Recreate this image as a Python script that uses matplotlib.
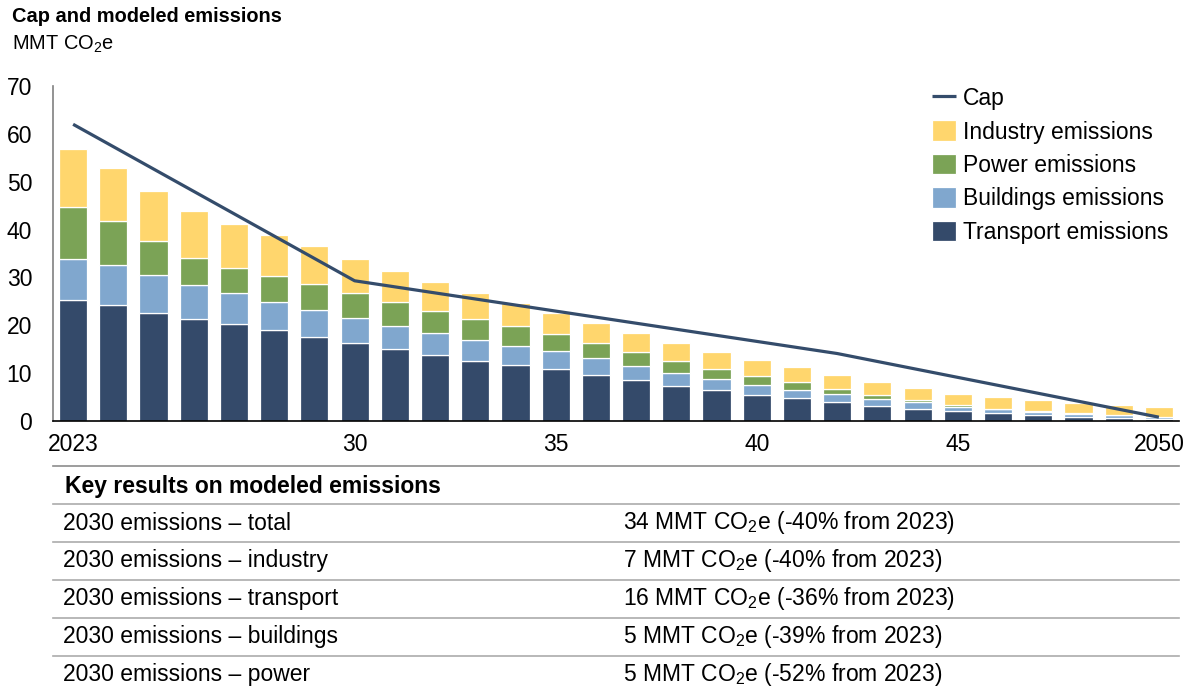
import matplotlib
matplotlib.use("Agg")
import matplotlib.pyplot as plt
from matplotlib.lines import Line2D

plt.rcParams['font.family'] = ['Liberation Sans', 'DejaVu Sans']
plt.rcParams['mathtext.default'] = 'regular'

# data (MMT CO2e)
years = list(range(2023, 2051))
transport = [25.2, 24.2, 22.6, 21.4, 20.2, 19.0, 17.6, 16.25, 15.0, 13.8, 12.6, 11.7, 10.8, 9.7,
             8.5, 7.4, 6.5, 5.5, 4.8, 3.9, 3.1, 2.6, 2.1, 1.6, 1.2, 0.9, 0.6, 0.5]
buildings = [8.55, 8.4, 8.0, 7.1, 6.6, 5.9, 5.5, 5.25, 4.8, 4.5, 4.3, 4.0, 3.8, 3.4,
             3.0, 2.6, 2.25, 2.0, 1.7, 1.65, 1.6, 1.3, 0.9, 0.85, 0.75, 0.6, 0.55, 0.35]
power = [10.95, 9.1, 7.0, 5.5, 5.2, 5.4, 5.6, 5.2, 5.0, 4.7, 4.4, 4.1, 3.6, 3.2,
         2.9, 2.6, 2.15, 1.9, 1.6, 1.15, 0.8, 0.5, 0.3, 0.15, 0.15, 0.1, 0.1, 0.05]
industry = [12.2, 11.1, 10.5, 9.8, 9.25, 8.6, 7.9, 7.2, 6.6, 6.0, 5.5, 4.8, 4.4, 4.2,
            3.9, 3.65, 3.5, 3.3, 3.15, 2.95, 2.75, 2.5, 2.4, 2.4, 2.3, 2.15, 2.05, 2.1]
cap_years = [2023, 2030, 2042, 2050]
cap = [62.0, 29.3, 14.1, 0.8]

xticks = [2023, 2030, 2035, 2040, 2045, 2050]
xticklabels = ['2023', '30', '35', '40', '45', '2050']

table_header = 'Key results on modeled emissions'
table_labels = ['2030 emissions – total', '2030 emissions – industry', '2030 emissions – transport',
                '2030 emissions – buildings', '2030 emissions – power']
table_values = ['34 MMT CO$_2$e (-40% from 2023)', '7 MMT CO$_2$e (-40% from 2023)',
                '16 MMT CO$_2$e (-36% from 2023)', '5 MMT CO$_2$e (-39% from 2023)',
                '5 MMT CO$_2$e (-52% from 2023)']

c_tr = '#344a6a'
c_bu = '#80a7ce'
c_po = '#7ba356'
c_in = '#ffd66d'
c_cap = '#344c6b'

W, H = 1192, 690
fig = plt.figure(figsize=(W / 100, H / 100), dpi=100)
ax = fig.add_axes([53 / W, 1 - 421 / H, (1179 - 53) / W, (421 - 86) / H])

fs = 16.5
bw = 0.7
kw = dict(width=bw, edgecolor='white', linewidth=0.9)
b1 = ax.bar(years, transport, color=c_tr, label='Transport emissions', **kw)
bot = list(transport)
b2 = ax.bar(years, buildings, bottom=bot, color=c_bu, label='Buildings emissions', **kw)
bot = [a + b for a, b in zip(bot, buildings)]
b3 = ax.bar(years, power, bottom=bot, color=c_po, label='Power emissions', **kw)
bot = [a + b for a, b in zip(bot, power)]
b4 = ax.bar(years, industry, bottom=bot, color=c_in, label='Industry emissions', **kw)
l1, = ax.plot(cap_years, cap, color=c_cap, linewidth=2.3, label='Cap', solid_capstyle='butt')

ax.set_xlim(2022.5, 2050.5)
ax.set_ylim(0, 70)
ax.set_yticks(range(0, 71, 10))
ax.set_xticks(xticks)
ax.set_xticklabels(xticklabels)
ax.tick_params(axis='both', length=0, labelsize=fs)
ax.tick_params(axis='y', pad=15)
ax.tick_params(axis='x', pad=9)
for s in ['top', 'right']:
    ax.spines[s].set_visible(False)
ax.spines['left'].set_color('#808080')
ax.spines['left'].set_linewidth(1.2)
ax.spines['bottom'].set_color('black')
ax.spines['bottom'].set_linewidth(1.2)

ax.legend([l1, b4, b3, b2, b1],
          ['Cap', 'Industry emissions', 'Power emissions', 'Buildings emissions', 'Transport emissions'],
          loc='upper left', bbox_to_anchor=(932 / W, 1 - 87 / H), bbox_transform=fig.transFigure,
          frameon=False, fontsize=fs, handlelength=1.05, handleheight=1.0,
          handletextpad=0.3, labelspacing=0.45, borderpad=0, borderaxespad=0)

# title
fig.text(12 / W, 1 - 17 / H, 'Cap and modeled emissions', fontsize=14.4, fontweight='bold', va='center')
fig.text(12 / W, 1 - 44 / H, 'MMT CO$_2$e', fontsize=14.4, va='center')

# table below the chart
x0, x1 = 53 / W, 1179 / W
fig.add_artist(Line2D([x0, x1], [1 - 466 / H] * 2, color='#8c8c8c', linewidth=1.2))
fig.text(65 / W, 1 - 486 / H, table_header, fontsize=fs, fontweight='bold', va='center')
for i, (lab, val) in enumerate(zip(table_labels, table_values)):
    yl = 504 + 38 * i
    fig.add_artist(Line2D([x0, x1], [1 - yl / H] * 2, color='#ababab', linewidth=1.2))
    yc = yl + 19
    fig.text(63 / W, 1 - yc / H, lab, fontsize=fs, va='center')
    fig.text(623 / W, 1 - yc / H, val, fontsize=fs, va='center')

fig.savefig('out.png', dpi=100)
